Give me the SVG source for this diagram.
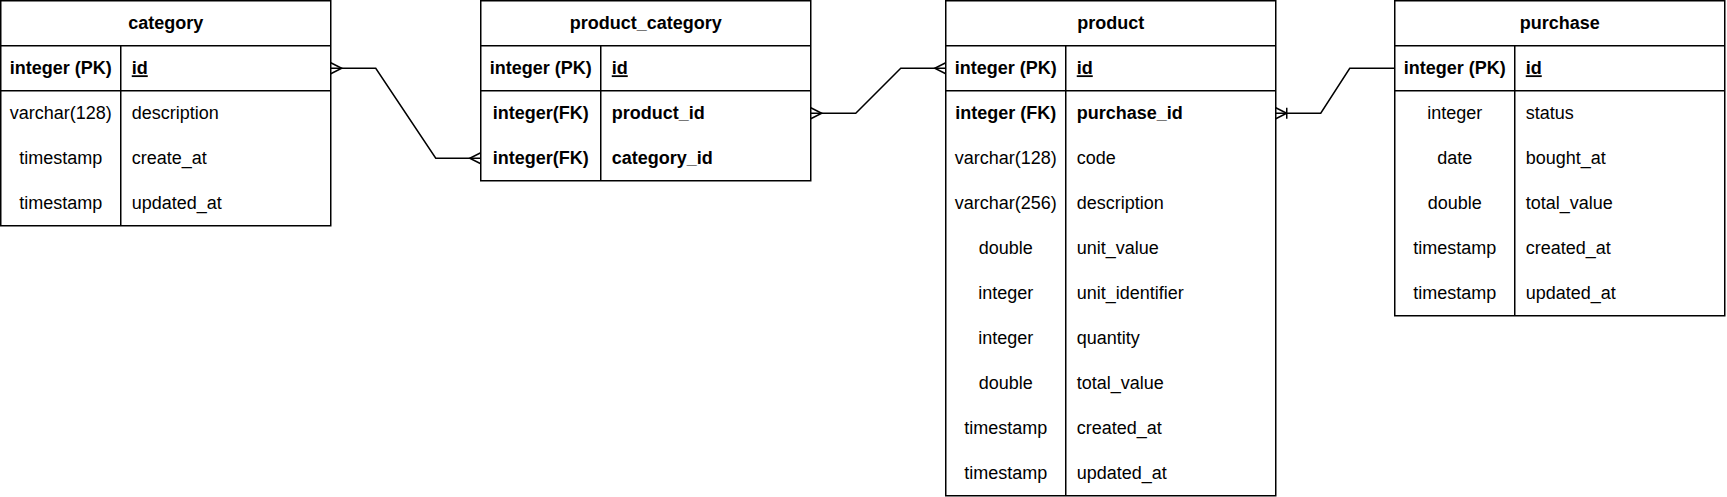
<svg xmlns="http://www.w3.org/2000/svg" width="1727" height="497" viewBox="0 0 1727 497">
<style>
.tbl{fill:#fff;stroke:#000;stroke-width:1.5}
.ln{stroke:#000;stroke-width:1.5;fill:none}
.t{font-family:"Liberation Sans",Arial,Helvetica,sans-serif;font-size:18px;fill:#000}
.b{font-weight:bold}
.c{text-anchor:middle}
.u{text-decoration:underline}
.edge{fill:none;stroke:#000;stroke-width:1.5}
</style>
<defs>
<marker id="many" markerUnits="userSpaceOnUse" viewBox="-14 -8 16 16" refX="0" refY="0" markerWidth="16" markerHeight="16" orient="auto-start-reverse" overflow="visible">
<path d="M0,-5.5 L-11,0 L0,5.5" fill="none" stroke="#000" stroke-width="1.5"/>
</marker>
<marker id="oneMany" markerUnits="userSpaceOnUse" viewBox="-14 -8 16 16" refX="0" refY="0" markerWidth="16" markerHeight="16" orient="auto-start-reverse" overflow="visible">
<path d="M0,-5.5 L-11,0 L0,5.5 M-11,-5.5 L-11,5.5" fill="none" stroke="#000" stroke-width="1.5"/>
</marker>
</defs>
<rect width="1727" height="497" fill="#fff"/>

<g id="connectors">
<path class="edge" d="M330.75,68.25 H375.75 L435.75,158.25 H480.75" marker-start="url(#many)" marker-end="url(#many)"/>
<path class="edge" d="M810.75,113.25 H855.75 L900.75,68.25 H945.75" marker-start="url(#many)" marker-end="url(#many)"/>
<path class="edge" d="M1275.75,113.25 H1320.75 L1349.75,68.25 H1394.75" marker-start="url(#oneMany)"/>
</g>

<g id="category">
<rect class="tbl" x="0.75" y="0.75" width="330" height="225"/>
<line class="ln" x1="0.75" y1="45.75" x2="330.75" y2="45.75"/>
<line class="ln" x1="0.75" y1="90.75" x2="330.75" y2="90.75"/>
<line class="ln" x1="120.75" y1="45.75" x2="120.75" y2="225.75"/>
<text class="t b c" x="165.75" y="29.25">category</text>
<text class="t b c" x="60.75" y="74.25">integer (PK)</text>
<text class="t b u" x="131.75" y="74.25">id</text>
<text class="t c" x="60.75" y="119.25">varchar(128)</text>
<text class="t" x="131.75" y="119.25">description</text>
<text class="t c" x="60.75" y="164.25">timestamp</text>
<text class="t" x="131.75" y="164.25">create_at</text>
<text class="t c" x="60.75" y="209.25">timestamp</text>
<text class="t" x="131.75" y="209.25">updated_at</text>
</g>

<g id="product_category">
<rect class="tbl" x="480.75" y="0.75" width="330" height="180"/>
<line class="ln" x1="480.75" y1="45.75" x2="810.75" y2="45.75"/>
<line class="ln" x1="480.75" y1="90.75" x2="810.75" y2="90.75"/>
<line class="ln" x1="600.75" y1="45.75" x2="600.75" y2="180.75"/>
<text class="t b c" x="645.75" y="29.25">product_category</text>
<text class="t b c" x="540.75" y="74.25">integer (PK)</text>
<text class="t b u" x="611.75" y="74.25">id</text>
<text class="t b c" x="540.75" y="119.25">integer(FK)</text>
<text class="t b" x="611.75" y="119.25">product_id</text>
<text class="t b c" x="540.75" y="164.25">integer(FK)</text>
<text class="t b" x="611.75" y="164.25">category_id</text>
</g>

<g id="product">
<rect class="tbl" x="945.75" y="0.75" width="330" height="495"/>
<line class="ln" x1="945.75" y1="45.75" x2="1275.75" y2="45.75"/>
<line class="ln" x1="945.75" y1="90.75" x2="1275.75" y2="90.75"/>
<line class="ln" x1="1065.75" y1="45.75" x2="1065.75" y2="495.75"/>
<text class="t b c" x="1110.75" y="29.25">product</text>
<text class="t b c" x="1005.75" y="74.25">integer (PK)</text>
<text class="t b u" x="1076.75" y="74.25">id</text>
<text class="t b c" x="1005.75" y="119.25">integer (FK)</text>
<text class="t b" x="1076.75" y="119.25">purchase_id</text>
<text class="t c" x="1005.75" y="164.25">varchar(128)</text>
<text class="t" x="1076.75" y="164.25">code</text>
<text class="t c" x="1005.75" y="209.25">varchar(256)</text>
<text class="t" x="1076.75" y="209.25">description</text>
<text class="t c" x="1005.75" y="254.25">double</text>
<text class="t" x="1076.75" y="254.25">unit_value</text>
<text class="t c" x="1005.75" y="299.25">integer</text>
<text class="t" x="1076.75" y="299.25">unit_identifier</text>
<text class="t c" x="1005.75" y="344.25">integer</text>
<text class="t" x="1076.75" y="344.25">quantity</text>
<text class="t c" x="1005.75" y="389.25">double</text>
<text class="t" x="1076.75" y="389.25">total_value</text>
<text class="t c" x="1005.75" y="434.25">timestamp</text>
<text class="t" x="1076.75" y="434.25">created_at</text>
<text class="t c" x="1005.75" y="479.25">timestamp</text>
<text class="t" x="1076.75" y="479.25">updated_at</text>
</g>

<g id="purchase">
<rect class="tbl" x="1394.75" y="0.75" width="330" height="315"/>
<line class="ln" x1="1394.75" y1="45.75" x2="1724.75" y2="45.75"/>
<line class="ln" x1="1394.75" y1="90.75" x2="1724.75" y2="90.75"/>
<line class="ln" x1="1514.75" y1="45.75" x2="1514.75" y2="315.75"/>
<text class="t b c" x="1559.75" y="29.25">purchase</text>
<text class="t b c" x="1454.75" y="74.25">integer (PK)</text>
<text class="t b u" x="1525.75" y="74.25">id</text>
<text class="t c" x="1454.75" y="119.25">integer</text>
<text class="t" x="1525.75" y="119.25">status</text>
<text class="t c" x="1454.75" y="164.25">date</text>
<text class="t" x="1525.75" y="164.25">bought_at</text>
<text class="t c" x="1454.75" y="209.25">double</text>
<text class="t" x="1525.75" y="209.25">total_value</text>
<text class="t c" x="1454.75" y="254.25">timestamp</text>
<text class="t" x="1525.75" y="254.25">created_at</text>
<text class="t c" x="1454.75" y="299.25">timestamp</text>
<text class="t" x="1525.75" y="299.25">updated_at</text>
</g>
</svg>
